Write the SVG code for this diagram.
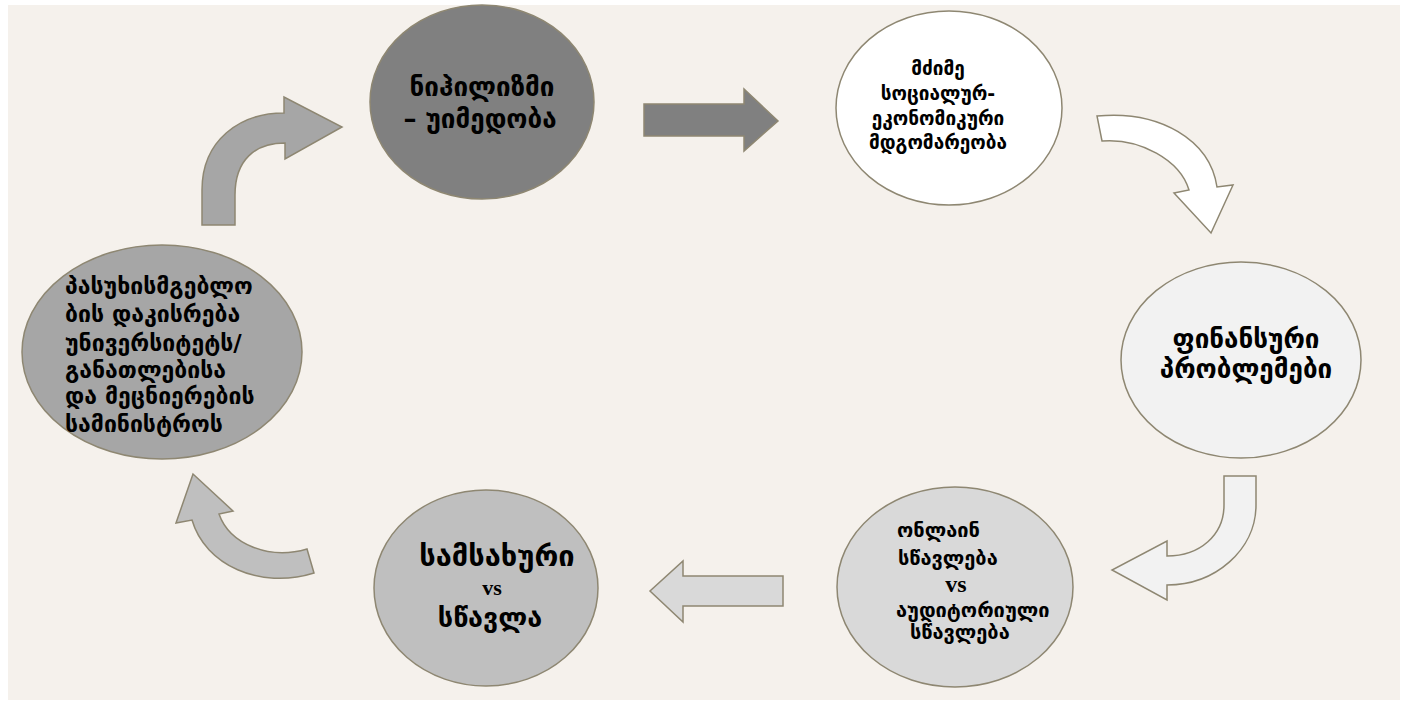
<svg xmlns="http://www.w3.org/2000/svg" width="1408" height="709" viewBox="0 0 1408 709">
<style>
  .shape { stroke: #8E8772; stroke-width: 1.5; }
  .t { font-family: "DejaVu Sans", "Noto Sans", sans-serif; font-weight: bold; fill: #000; }
  .vs { font-family: "Liberation Serif", "DejaVu Serif", serif; font-weight: bold; fill: #000; }
</style>
<rect x="0" y="0" width="1408" height="709" fill="#FFFFFF"/>
<rect x="8" y="5" width="1392" height="695" fill="#F5F1EC"/>

<g id="connectors">
  <path id="arrow-top-left" class="shape" fill="#A6A6A6" d="M202,225 L202,190 C202,140 240,113 284,113 L284,97 L342,127 L285,159 L285,143 C255,143 235,160 235,195 L235,225 Z"/>
  <path id="arrow-top" class="shape" fill="#808080" d="M644,104 L744,104 L744,89 L778,121 L744,151 L744,136 L644,136 Z"/>
  <path id="arrow-top-right" class="shape" fill="#FFFFFF" d="M1097,116 C1160,110 1210,140 1217,187 L1233,185 L1211,233 L1174,193 L1189,190 C1180,160 1140,138 1102,141 Z"/>
  <path id="arrow-bottom-right" class="shape" fill="#F2F2F2" d="M1224,476 L1256,476 L1256,505 C1256,550 1215,585 1167,585 L1167,600 L1112,570 L1167,541 L1167,556 C1200,556 1224,535 1224,505 Z"/>
  <path id="arrow-bottom" class="shape" fill="#D9D9D9" d="M783,576 L683,576 L683,561 L650,591 L683,622 L683,606 L783,606 Z"/>
  <path id="arrow-bottom-left" class="shape" fill="#BFBFBF" d="M307,549 C270,560 230,545 219,514 L233,511 L193,474 L176,523 L192,520 C205,565 260,590 314,573 Z"/>
</g>

<g id="node-nihilism">
  <ellipse class="shape" cx="482" cy="102" rx="112" ry="97" fill="#808080"/>
  <text class="t" font-size="26" text-anchor="middle"><tspan x="482" y="96">ნიჰილიზმი</tspan><tspan x="480" y="128">– უიმედობა</tspan></text>
</g>

<g id="node-hardship">
  <ellipse class="shape" cx="949" cy="108" rx="113" ry="97" fill="#FFFFFF"/>
  <text class="t" font-size="19" text-anchor="middle"><tspan x="938" y="75">მძიმე</tspan><tspan x="938" y="100">სოციალურ-</tspan><tspan x="938" y="125">ეკონომიკური</tspan><tspan x="938" y="149">მდგომარეობა</tspan></text>
</g>

<g id="node-financial">
  <ellipse class="shape" cx="1241" cy="360" rx="120" ry="98" fill="#F2F2F2"/>
  <text class="t" font-size="26" text-anchor="middle"><tspan x="1246" y="348">ფინანსური</tspan><tspan x="1246" y="378">პრობლემები</tspan></text>
</g>

<g id="node-online">
  <ellipse class="shape" cx="955" cy="587" rx="118" ry="100" fill="#D9D9D9"/>
  <text class="t" font-size="20"><tspan x="897" y="537">ონლაინ</tspan><tspan x="898" y="565">სწავლება</tspan></text>
  <text class="vs" font-size="24" text-anchor="middle" x="956" y="592">vs</text>
  <text class="t" font-size="20"><tspan x="896" y="617">აუდიტორიული</tspan><tspan x="910" y="639">სწავლება</tspan></text>
</g>

<g id="node-work">
  <ellipse class="shape" cx="486" cy="588" rx="112" ry="98" fill="#BFBFBF"/>
  <text class="t" font-size="29" text-anchor="middle"><tspan x="497" y="566">სამსახური</tspan></text>
  <text class="vs" font-size="22" text-anchor="middle" x="492" y="595">vs</text>
  <text class="t" font-size="27" text-anchor="middle"><tspan x="490" y="627">სწავლა</tspan></text>
</g>

<g id="node-responsibility">
  <ellipse class="shape" cx="162" cy="352" rx="140" ry="107" fill="#A6A6A6"/>
  <text class="t" font-size="23"><tspan x="65" y="294">პასუხისმგებლო</tspan><tspan x="65" y="322">ბის დაკისრება</tspan><tspan x="65" y="351">უნივერსიტეტს/</tspan><tspan x="65" y="378">განათლებისა</tspan><tspan x="65" y="404">და მეცნიერების</tspan><tspan x="65" y="432">სამინისტროს</tspan></text>
</g>
</svg>
